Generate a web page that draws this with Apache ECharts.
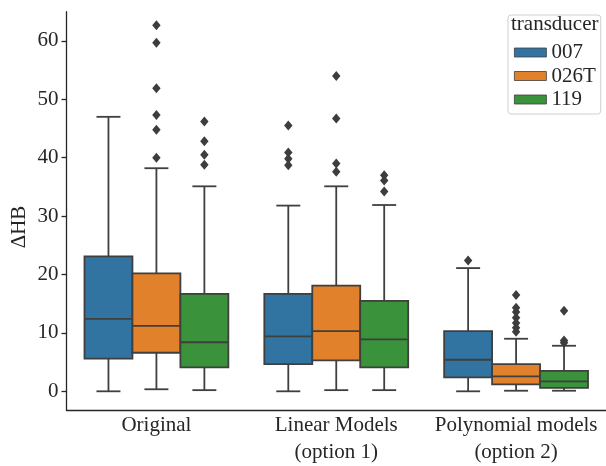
<!DOCTYPE html>
<html>
<head>
<meta charset="utf-8">
<script src="https://cdn.jsdelivr.net/npm/echarts@6/dist/echarts.min.js"></script>
<style>
  html, body { margin: 0; padding: 0; background: #fff; }
  #chart { width: 606px; height: 466px; }
</style>
</head>
<body>
<div id="chart"></div>
<script>
const categories = ['Original', 'Linear Models\n(option 1)', 'Polynomial models\n(option 2)'];
const transducers = ['007', '026T', '119'];
const yTicks = [0, 10, 20, 30, 40, 50, 60];

// [min, q1, median, q3, max] per category
const box007 = [[0, 5.6, 12.4, 23.1, 47.0], [0, 4.65, 9.4, 16.7, 31.8], [0, 2.4, 5.4, 10.3, 21.1]];
const box026T = [[0.35, 6.6, 11.2, 20.2, 38.2], [0.2, 5.3, 10.3, 18.1, 35.1], [0.1, 1.2, 2.55, 4.65, 9.0]];
const box119 = [[0.2, 4.1, 8.4, 16.7, 35.1], [0.2, 4.1, 8.9, 15.5, 31.9], [0.1, 0.6, 1.7, 3.5, 7.8]];

const out007 = [[], [45.5, 40.9, 39.8, 38.7], [22.4]];
const out026T = [[62.7, 59.7, 51.9, 47.3, 44.8, 40.0], [54.0, 46.7, 39.0, 37.6], [16.5, 14.3, 13.6, 12.6, 11.7, 10.9, 10.2]];
const out119 = [[46.2, 42.8, 40.5, 38.8], [37.0, 36.1, 34.2], [13.8, 8.7, 8.3]];

const palette = ['#3274a1', '#e1812c', '#3a923a'];
const edge = '#3f3f3f';
const ink = '#262626';
const font = "'Liberation Serif', 'Times New Roman', serif";

const boxes = [box007, box026T, box119];
const outs = [out007, out026T, out119];

function groupX(api, cat, k) {
  const band = api.size([1, 0])[0];
  const w = band * 0.8 / transducers.length;
  return { cx: api.coord([cat, 0])[0] + (k - 1) * w, w: w };
}

function boxRenderer(k) {
  return function (params, api) {
    const cat = api.value(0);
    const g = groupX(api, cat, k);
    const y = [1, 2, 3, 4, 5].map(i => api.coord([cat, api.value(i)])[1]);
    const line = { stroke: edge, lineWidth: 1.8 };
    const half = g.w / 2, cap = g.w / 4;
    return {
      type: 'group',
      children: [
        { type: 'line', shape: { x1: g.cx, y1: y[0], x2: g.cx, y2: y[1] }, style: line },
        { type: 'line', shape: { x1: g.cx, y1: y[3], x2: g.cx, y2: y[4] }, style: line },
        { type: 'line', shape: { x1: g.cx - cap, y1: y[0], x2: g.cx + cap, y2: y[0] }, style: line },
        { type: 'line', shape: { x1: g.cx - cap, y1: y[4], x2: g.cx + cap, y2: y[4] }, style: line },
        { type: 'rect', shape: { x: g.cx - half, y: y[3], width: g.w, height: y[1] - y[3] },
          style: { fill: palette[k], stroke: edge, lineWidth: 1.8 } },
        { type: 'line', shape: { x1: g.cx - half, y1: y[2], x2: g.cx + half, y2: y[2] }, style: line }
      ]
    };
  };
}

function outlierRenderer(k) {
  return function (params, api) {
    const cat = api.value(0);
    const g = groupX(api, cat, k);
    const cy = api.coord([cat, api.value(1)])[1];
    return {
      type: 'polygon',
      shape: { points: [[g.cx, cy - 5], [g.cx + 4.2, cy], [g.cx, cy + 5], [g.cx - 4.2, cy]] },
      style: { fill: '#3d3d3d' }
    };
  };
}

const series = [];
transducers.forEach((name, k) => {
  series.push({
    name: name,
    type: 'custom',
    renderItem: boxRenderer(k),
    encode: { x: 0, y: [1, 2, 3, 4, 5] },
    itemStyle: { color: palette[k] },
    data: boxes[k].map((s, i) => [i].concat(s))
  });
  const pts = [];
  outs[k].forEach((vals, i) => vals.forEach(v => pts.push([i, v])));
  series.push({
    name: name + ' outliers',
    type: 'custom',
    renderItem: outlierRenderer(k),
    encode: { x: 0, y: 1 },
    z: 3,
    data: pts
  });
});

const chart = echarts.init(document.getElementById('chart'));
chart.setOption({
  animation: false,
  grid: { left: 66.5, right: -3.5, top: 11.7, bottom: 53 },
  title: {
    text: 'transducer',
    left: 511, top: 14,
    padding: 0,
    textStyle: { fontFamily: font, fontSize: 21, fontWeight: 'normal', color: ink }
  },
  legend: {
    orient: 'vertical',
    left: 508, top: 15,
    padding: [27, 5, 4, 6],
    backgroundColor: '#fff',
    borderColor: '#d0d0d0',
    borderWidth: 1,
    borderRadius: 3,
    itemWidth: 32, itemHeight: 9, itemGap: 2.5,
    icon: 'rect',
    textStyle: { fontFamily: font, fontSize: 21, color: ink, lineHeight: 20 },
    data: transducers.map((n, k) => ({
      name: n,
      itemStyle: { color: palette[k], borderColor: edge, borderWidth: 0.8 }
    }))
  },
  graphic: [{
    type: 'text',
    x: 19, y: 227,
    rotation: Math.PI / 2,
    style: {
      text: 'ΔHB', fontFamily: font, fontSize: 21, fill: ink,
      textAlign: 'center', textVerticalAlign: 'middle'
    }
  }],
  xAxis: {
    type: 'category',
    data: categories,
    axisLine: { onZero: false, lineStyle: { color: ink, width: 1.3 } },
    axisTick: { alignWithLabel: true, length: 5, lineStyle: { color: ink, width: 1.3 } },
    axisLabel: { interval: 0, fontFamily: font, fontSize: 21, color: ink, margin: 2, lineHeight: 27 }
  },
  yAxis: {
    type: 'value',
    min: -3.2, max: 65,
    splitLine: { show: false },
    axisLine: { show: true, lineStyle: { color: ink, width: 1.3 } },
    axisTick: { show: true, length: 5, customValues: yTicks, lineStyle: { color: ink, width: 1.3 } },
    axisLabel: { fontFamily: font, fontSize: 21, color: ink, margin: 8, customValues: yTicks }
  },
  series: series
});
</script>
</body>
</html>
